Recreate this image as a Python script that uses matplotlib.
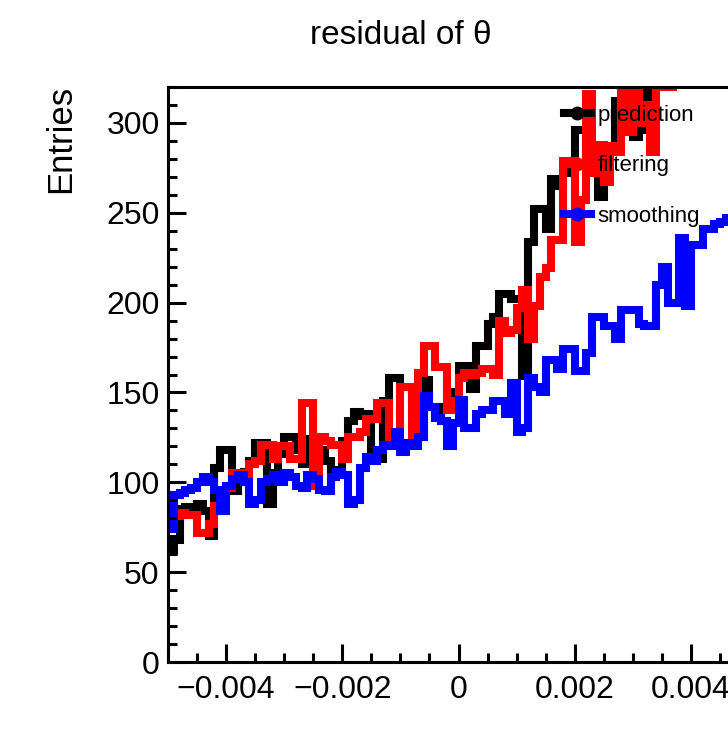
import numpy as np
import matplotlib
matplotlib.use('Agg')
import matplotlib.pyplot as plt
from matplotlib.lines import Line2D
from matplotlib.ticker import MultipleLocator, FixedLocator, FixedFormatter

plt.rcParams['font.family'] = ['Liberation Sans', 'DejaVu Sans']

# 直方图分箱: 100 bins in [-0.005, 0.005]
x_min, x_max, n_bins = -0.005, 0.005, 100

prediction = [62, 68, 85, 86, 86, 88, 84, 70, 108, 118,
              118, 95, 100, 106, 112, 122, 122, 88, 105, 116,
              125, 125, 118, 110, 124, 124, 118, 112, 107, 107,
              123, 134, 139, 137, 138, 115, 113, 145, 158, 158,
              153, 153, 145, 140, 157, 142, 140, 142, 148, 150,
              165, 165, 152, 176, 176, 188, 192, 205, 205, 202,
              202, 159, 234, 252, 252, 241, 269, 265, 272, 278,
              296, 296, 272, 278, 259, 287, 285, 312, 312, 295,
              292, 318, 296, 332, 338, 335, 345, 340, 350, 355,
              348, 360, 365, 358, 370, 372, 368, 380, 385, 390]

filtering = [80, 81, 83, 82, 82, 72, 72, 77, 87, 87,
             97, 105, 105, 100, 110, 112, 121, 121, 113, 120,
             120, 113, 113, 144, 144, 98, 125, 123, 121, 121,
             113, 125, 125, 128, 135, 135, 144, 144, 123, 123,
             153, 153, 125, 161, 176, 176, 164, 164, 140, 145,
             158, 161, 160, 161, 163, 163, 160, 190, 183, 185,
             197, 207, 180, 198, 214, 219, 235, 235, 279, 279,
             234, 257, 316, 272, 288, 267, 287, 284, 330, 295,
             330, 300, 310, 284, 330, 320, 320, 335, 340, 345,
             338, 350, 355, 352, 360, 365, 362, 370, 375, 380]

smoothing = [74, 93, 94, 96, 97, 100, 103, 100, 96, 84,
             98, 102, 104, 100, 88, 90, 100, 102, 104, 100,
             105, 103, 98, 97, 104, 102, 96, 95, 103, 106,
             104, 88, 90, 108, 114, 112, 118, 121, 120, 128,
             117, 122, 120, 125, 148, 142, 136, 134, 120, 133,
             146, 130, 130, 138, 140, 140, 145, 145, 138, 155,
             128, 130, 158, 153, 150, 168, 168, 163, 174, 174,
             162, 162, 172, 192, 192, 187, 187, 180, 196, 196,
             196, 188, 187, 187, 210, 220, 200, 200, 236, 198,
             232, 232, 241, 241, 244, 245, 247, 250, 252, 255]

series_names = ['prediction', 'filtering', 'smoothing']
series_colors = ['black', 'red', 'blue']

x_ticks = [-0.004, -0.002, 0, 0.002, 0.004]
x_tick_labels = ['\u22120.004', '\u22120.002', '0', '0.002', '0.004']

if __name__ == '__main__':
    fig = plt.figure(figsize=(7.28, 7.41), dpi=100)
    # 坐标轴超出右边界 (原图被裁切)
    ax = fig.add_axes([168 / 728, 1 - 662 / 741, 581 / 728, 575 / 741])

    edges = np.linspace(x_min, x_max, n_bins + 1)
    lw = 5.8
    for vals, name, col in zip([prediction, filtering, smoothing], series_names, series_colors):
        ax.stairs(vals, edges, color=col, linewidth=lw, baseline=None, joinstyle='miter')

    ax.set_xlim(x_min, x_max)
    ax.set_ylim(0, 320)

    ax.xaxis.set_major_locator(FixedLocator(x_ticks))
    ax.xaxis.set_major_formatter(FixedFormatter(x_tick_labels))
    ax.xaxis.set_minor_locator(MultipleLocator(0.0005))
    ax.yaxis.set_major_locator(MultipleLocator(50))
    ax.yaxis.set_minor_locator(MultipleLocator(10))
    ax.tick_params(which='both', direction='in', width=2.2, labelsize=23)
    ax.tick_params(which='major', length=13)
    ax.tick_params(which='minor', length=6.5)
    ax.tick_params(axis='x', pad=9)
    ax.tick_params(axis='y', pad=6)
    for sp in ax.spines.values():
        sp.set_linewidth(2.2)

    fig.text(401 / 728, 1 - 36 / 741, 'residual of \u03b8', ha='center', va='center', fontsize=24)
    fig.text(61 / 728, 1 - 85 / 741, 'Entries', rotation=90, ha='center', va='top', fontsize=25)

    handles = [Line2D([], [], color=c, linewidth=lw, marker='o', markersize=9) for c in series_colors]
    ax.legend(handles, series_names, loc='upper left', frameon=False, fontsize=16,
              bbox_to_anchor=(564 / 728, 1 - 105 / 741), bbox_transform=fig.transFigure,
              handlelength=1.2, handletextpad=0.3, labelspacing=1.32, borderpad=0,
              borderaxespad=0)

    fig.savefig('out.png', dpi=100)
